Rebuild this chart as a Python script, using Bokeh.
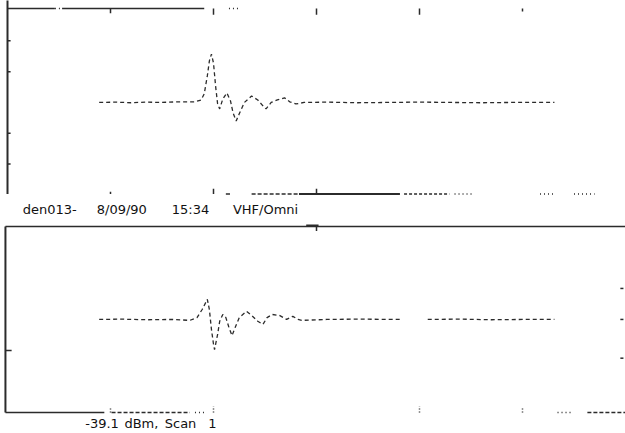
from bokeh.plotting import figure
from bokeh.models import Range1d, ColumnDataSource
from bokeh.core.properties import value
from bokeh.embed import file_html
from bokeh.resources import INLINE

nan = float("nan")

# ---------------- data ----------------
# upper trace (time units, amplitude units)
top_t = [8.9, 10.5, 12.0, 13.5, 15.0, 16.5, 18.2, 18.8, 19.1, 19.4, 19.6, 19.8,
         20.0, 20.2, 20.4, 20.6, 20.9, 21.3, 21.65, 21.9, 22.2, 22.5, 23.0, 23.7,
         24.3, 24.8, 25.1, 25.6, 26.2, 26.9, 27.4, 28.0, 28.8, 31.0, 34.0, 37.0,
         40.0, 43.0, 46.0, 49.0, 53.1]
top_a = [0.0, 0.01, -0.01, 0.01, 0.0, 0.02, 0.02, 0.08, 0.28, 0.86, 1.35, 1.57,
         1.28, 0.54, -0.05, -0.21, 0.11, 0.31, 0.05, -0.34, -0.60, -0.37, 0.0, 0.21,
         0.08, -0.11, -0.21, 0.0, 0.08, 0.15, 0.02, -0.05, 0.0, 0.01, -0.01, 0.0,
         0.01, 0.0, -0.01, 0.0, 0.0]

# lower trace
bot_t = [8.9, 11.0, 13.5, 16.0, 17.7, 18.4, 18.9, 19.4, 19.6, 19.8, 20.0, 20.1,
         20.4, 20.6, 20.9, 21.2, 21.5, 21.8, 22.1, 22.5, 23.2, 23.7, 24.3, 24.8,
         25.2, 25.7, 26.4, 27.1, 27.7, 28.2, 28.6, 31.0, 34.0, 38.1, nan,
         40.8, 44.0, 47.0, 50.0, 53.1]
bot_a = [0.0, 0.01, -0.01, 0.0, -0.03, 0.06, 0.32, 0.65, 0.32, -0.32, -0.80, -0.97,
         -0.48, -0.06, 0.16, 0.06, -0.26, -0.52, -0.26, 0.06, 0.26, 0.13, -0.06, -0.16,
         0.06, 0.16, 0.13, 0.0, 0.10, 0.0, -0.03, 0.0, 0.01, 0.0, nan,
         0.0, 0.01, -0.01, 0.0, 0.0]

x_ticks = [10, 20, 30, 40, 50]
top_left_ticks = [2, 1, -1, -2]
bot_left_ticks = [-1]
bot_right_ticks = [1, 0, -1.25]

header_texts = ["den013-", "8/09/90", "15:34", "VHF/Omni"]
footer_texts = ["-39.1", "dBm,", "Scan", "1"]

# ---------------- figure ----------------
W, H = 625, 433
p = figure(width=W, height=H, output_backend="svg", toolbar_location=None,
           x_axis_type=None, y_axis_type=None, min_border=0,
           x_range=Range1d(-0.68, 60.0), y_range=Range1d(-10.75, 3.31),
           outline_line_color=None, background_fill_color="white",
           border_fill_color="white")
p.extra_y_ranges = {"bot": Range1d(-3.68, 10.29)}
p.grid.visible = False

LC = "#2b2b2b"

# traces
p.line(top_t, top_a, line_color=LC, line_width=1.3, line_dash="4 3")
p.line(bot_t, bot_a, line_color=LC, line_width=1.3, line_dash="4 3",
       y_range_name="bot")

def seg(x0, y0, x1, y1, dash="solid", w=1.5, rng="default", color=LC):
    kw = {} if rng == "default" else {"y_range_name": rng}
    p.segment(x0=x0, y0=y0, x1=x1, y1=y1, line_color=color, line_width=w,
              line_dash=dash, **kw)

TB = 3.05   # upper frame top
BB = -2.97  # upper frame bottom

# ---- upper frame ----
seg([0.0], [3.4], [0.0], [BB], w=2)                        # left border
seg([0.0, 5.3], [TB, TB], [4.6, 19.1], [TB, TB])           # top border pieces
seg([4.6], [TB], [5.3], [TB], dash="1 3")
seg([21.5], [TB], [22.6], [TB], dash="1 3")
seg(x_ticks, [TB] * 5, x_ticks, [2.9, 2.85, 2.85, 2.85, 2.95], w=1.5)
# bottom border pieces
seg([23.7], [BB], [28.3], [BB], dash="4 2")
seg([28.3], [BB], [38.1], [BB], w=2)
seg([38.5], [BB], [42.9], [BB], dash="3 2")
seg([43.4, 51.7, 55.0], [BB] * 3, [45.3, 53.1, 57.0], [BB] * 3, dash="1 3")
seg([21.2], [BB], [21.6], [BB])
seg([10, 20, 30], [BB] * 3, [10, 20, 30], [-2.9, -2.8, -2.8])
seg([0.0] * 4, top_left_ticks, [0.3] * 4, top_left_ticks, w=1.5)

# ---- lower frame ----
seg([-0.2], [3.0], [60.0], [3.0], w=1.5, rng="bot")        # top border
seg([29.0], [3.02], [30.2], [3.02], w=2.5, rng="bot")
seg([30], [3.0], [30], [2.85], rng="bot")
seg([-0.2], [3.0], [-0.2], [-3.0], w=2, rng="bot")         # left border
seg([-0.2] * len(bot_left_ticks), bot_left_ticks, [0.4] * len(bot_left_ticks),
    bot_left_ticks, rng="bot")
seg([59.5] * 3, bot_right_ticks, [59.8] * 3, bot_right_ticks, rng="bot")
# bottom border
seg([-0.2], [-3.0], [9.4], [-3.0], w=1.5, rng="bot")
seg([10.1], [-3.0], [17.7], [-3.0], dash="4 2", rng="bot")
seg([18.2, 53.4], [-3.0, -3.0], [19.1, 54.8], [-3.0, -3.0], dash="1 3", rng="bot")
seg([56.3], [-3.0], [60.0], [-3.0], dash="4 2", rng="bot")
seg([10, 20, 40, 50], [-3.0] * 4, [10, 20, 40, 50], [-2.85, -2.8, -2.8, -2.85],
    dash="1 2", rng="bot")

# ---- texts ----
hdr = ColumnDataSource(dict(x=[4.1, 11.1, 17.77, 25.05], y=[3.55] * 4,
                            t=header_texts))
ftr = ColumnDataSource(dict(x=[9.18, 13.0, 16.8, 19.9], y=[-3.35] * 4,
                            t=footer_texts))
for src in (hdr, ftr):
    p.text(x="x", y="y", text="t", source=src, y_range_name="bot",
           text_font=value("DejaVu Sans"), text_font_size="13px",
           text_color="#111111", text_align="center", text_baseline="middle")

open("out.html", "w").write(file_html(p, INLINE))
